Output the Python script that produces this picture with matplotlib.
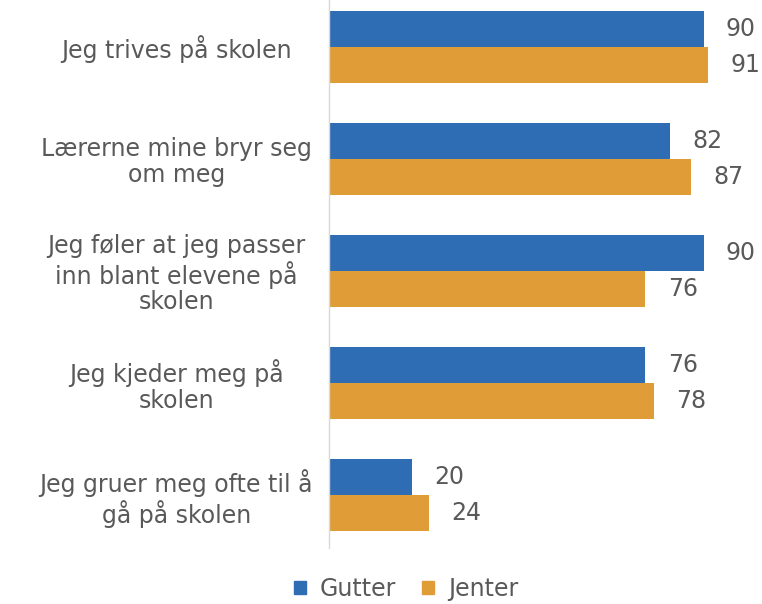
import matplotlib
matplotlib.use("Agg")
import matplotlib.pyplot as plt
from matplotlib.patches import Patch

plt.rcParams['font.family'] = ['DejaVu Sans']

categories = [
    "Jeg trives på skolen",
    "Lærerne mine bryr seg\nom meg",
    "Jeg føler at jeg passer\ninn blant elevene på\nskolen",
    "Jeg kjeder meg på\nskolen",
    "Jeg gruer meg ofte til å\ngå på skolen",
]
gutter = [90, 82, 90, 76, 20]
jenter = [91, 87, 76, 78, 24]
series_names = ["Gutter", "Jenter"]

blue = "#2E6DB4"
orange = "#E09C36"
textc = "#595959"

fig = plt.figure(figsize=(7.62, 6.04), dpi=100)
ax = fig.add_axes([329/762, 1-548/604, 1-329/762, 548/604])

h = 0.32
ys = list(range(len(categories)))
ax.barh([y - h/2 for y in ys], gutter, height=h, color=blue)
ax.barh([y + h/2 for y in ys], jenter, height=h, color=orange)

for y, g, j in zip(ys, gutter, jenter):
    ax.annotate(f"{g}", (g, y - h/2), xytext=(16, 0), textcoords="offset points",
                va="center", ha="left", fontsize=17, color=textc)
    ax.annotate(f"{j}", (j, y + h/2), xytext=(16, 0), textcoords="offset points",
                va="center", ha="left", fontsize=17, color=textc)

ax.set_xlim(0, 104)
ax.set_ylim(4 + 53/112, -47/112)
ax.set_yticks(ys)
ax.set_yticklabels(categories, fontsize=17, color=textc, ha="center", linespacing=1.1)
ax.tick_params(axis='y', length=0, pad=110)
ax.set_xticks([])
for s in ["top", "right", "bottom"]:
    ax.spines[s].set_visible(False)
ax.spines["left"].set_color("#D9D9D9")
ax.spines["left"].set_linewidth(1)

handles = [Patch(color=blue, label=series_names[0]), Patch(color=orange, label=series_names[1])]
fig.legend(handles=handles, loc="center", bbox_to_anchor=(406/762, 1-589/604), ncol=2,
           frameon=False, fontsize=17, labelcolor=textc, handlelength=0.5, handleheight=0.5,
           columnspacing=1.1, handletextpad=0.6, borderpad=0, borderaxespad=0)

fig.savefig("out.png", dpi=100)
